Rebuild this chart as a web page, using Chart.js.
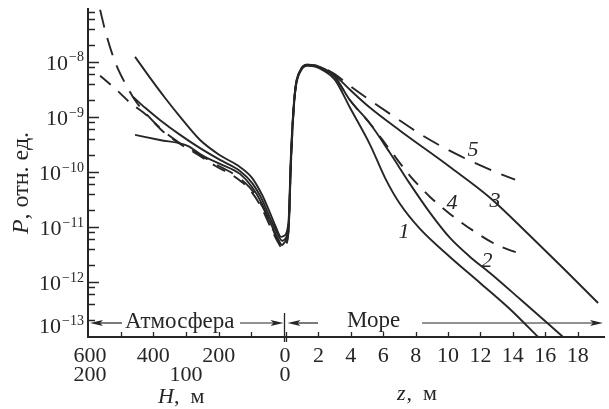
<!DOCTYPE html>
<html>
<head>
<meta charset="utf-8">
<script src="https://cdn.jsdelivr.net/npm/chart.js@4.4.1/dist/chart.umd.min.js"></script>
<style>
  html, body { margin: 0; padding: 0; background: #fff; }
  #wrap { width: 609px; height: 409px; }
</style>
</head>
<body>
<div id="wrap"><canvas id="chart"></canvas></div>
<script>
// Atmosphere part: [H (upper scale), P]; sea part: [z, P]
const curve1Atm = [[456, 4.7e-10], [380, 3.8e-10], [297, 3.0e-10], [248, 1.95e-10], [196, 1.4e-10], [135, 9.2e-11], [98, 5.3e-11], [67, 2.6e-11], [43, 1.23e-11], [21, 6.6e-12], [6, 4.7e-12], [0, 5.1e-12]];
const curve1Sea = [[0.15, 9e-12], [0.3, 1.4e-10], [0.45, 1.1e-9], [0.6, 3.4e-9], [0.9, 6.8e-9], [1.3, 8.5e-9], [1.8, 8.2e-9], [2.3, 7.0e-9], [3.0, 4.8e-9], [3.95, 1.46e-9], [5.19, 3.1e-10], [6.11, 7.8e-11], [7.04, 2.6e-11], [8.27, 9.2e-12], [10.12, 2.85e-12], [11.98, 9.6e-13], [13.83, 3.2e-13], [15.56, 1e-13]];

const curve2Atm = [[462, 2.3e-9], [425, 1.46e-9], [380, 8.8e-10], [318, 4.7e-10], [257, 2.7e-10], [196, 1.65e-10], [135, 1.04e-10], [98, 6.3e-11], [67, 3.1e-11], [43, 1.46e-11], [21, 7.8e-12], [6, 5.6e-12], [0, 5.8e-12]];
const curve2Sea = [[0.15, 1.0e-11], [0.3, 1.6e-10], [0.45, 1.2e-9], [0.6, 3.6e-9], [0.9, 7.0e-9], [1.3, 8.7e-9], [1.8, 8.4e-9], [2.3, 7.4e-9], [3.0, 5.4e-9], [3.95, 2.0e-9], [5.19, 7.5e-10], [6.42, 2.2e-10], [7.65, 6.05e-11], [8.89, 1.8e-11], [10.12, 6.3e-12], [11.36, 2.85e-12], [12.59, 1.46e-12], [14.44, 4.9e-13], [17.1, 1e-13]];

const curve3Atm = [[456, 1.23e-8], [410, 5.1e-9], [364, 2.2e-9], [318, 1.0e-9], [257, 3.8e-10], [196, 2.0e-10], [135, 1.23e-10], [98, 7.8e-11], [67, 3.8e-11], [43, 1.8e-11], [24, 9.6e-12], [9, 6.6e-12], [0, 6.9e-12]];
const curve3Sea = [[0.15, 1.2e-11], [0.3, 2.0e-10], [0.45, 1.3e-9], [0.6, 3.8e-9], [0.9, 7.2e-9], [1.3, 8.9e-9], [1.8, 8.6e-9], [2.3, 7.6e-9], [3.0, 5.7e-9], [3.95, 3.1e-9], [5.19, 1.46e-9], [7.04, 5.6e-10], [10.12, 1.23e-10], [12.59, 3.4e-11], [15.06, 6.9e-12], [17.22, 1.65e-12], [19.26, 4.15e-13]];

const curve4Atm = [[563, 5.6e-9], [530, 3.8e-9], [502, 2.7e-9], [471, 1.8e-9], [425, 1.13e-9], [373, 5.6e-10], [318, 3.2e-10], [266, 2.1e-10], [211, 1.29e-10], [150, 8.1e-11], [104, 4.7e-11], [70, 2.3e-11], [43, 1.04e-11], [21, 5.6e-12], [3, 4.0e-12], [0, 4.2e-12]];
const curve4Sea = [[0.15, 8e-12], [0.3, 1.3e-10], [0.45, 1.1e-9], [0.6, 3.5e-9], [0.9, 7.0e-9], [1.3, 8.7e-9], [1.8, 8.4e-9], [2.3, 7.3e-9], [3.0, 5.3e-9], [3.95, 2.0e-9], [5.19, 7.5e-10], [6.42, 2.5e-10], [7.65, 8.5e-11], [8.89, 3.5e-11], [10.12, 1.72e-11], [11.67, 8.1e-12], [13.02, 4.7e-12], [14.26, 3.4e-12]];

const curve5Atm = [[563, 8.8e-8], [548, 3.8e-8], [530, 1.65e-8], [511, 8.1e-9], [487, 4.15e-9], [456, 2.0e-9], [419, 1.09e-9], [373, 5.8e-10], [324, 3.5e-10], [272, 2.3e-10], [211, 1.4e-10], [150, 8.8e-11], [104, 5.1e-11], [67, 2.4e-11], [40, 1.09e-11], [21, 6.05e-12], [3, 4.3e-12], [0, 4.5e-12]];
const curve5Sea = [[0.15, 8.5e-12], [0.3, 1.5e-10], [0.45, 1.2e-9], [0.6, 3.7e-9], [0.9, 7.2e-9], [1.3, 8.9e-9], [1.8, 8.6e-9], [2.3, 7.7e-9], [3.0, 6.0e-9], [3.95, 3.65e-9], [5.19, 2.0e-9], [6.6, 1.04e-9], [8.58, 4.3e-10], [10.74, 1.95e-10], [12.78, 1.04e-10], [14.14, 7.2e-11]];

const hTicks = [500, 400, 300, 200, 100];
const hLabels = [600, 400, 200, 0];
const hLabelsLower = [200, 100, 0]; // lower H scale = upper / 3
const zTicks = [2, 4, 6, 8, 10, 12, 14, 16, 18];
const zLabels = [2, 4, 6, 8, 10, 12, 14, 16, 18];
const yDecades = [-8, -9, -10, -11, -12, -13];
const yMinor = [2, 4, 6, 8];

// one shared horizontal axis: atmosphere to the left of 0, sea to the right
const uAtm = H => -H / 49.59;
const uSea = z => z + 0.123;

const toPoints = (atm, sea) =>
  atm.map(([H, p]) => ({ x: uAtm(H), y: p }))
    .concat(sea.map(([z, p]) => ({ x: uSea(z), y: p })));

const ink = "#262626";
const serif = "'Liberation Serif', 'DejaVu Serif', serif";

function line(data, dash) {
  return {
    data,
    borderColor: ink,
    borderWidth: 1.9,
    borderDash: dash || [],
    pointRadius: 0,
    fill: false,
    cubicInterpolationMode: "monotone"
  };
}

function arrow(ctx, x1, x2, y) {
  const d = Math.sign(x2 - x1);
  ctx.beginPath();
  ctx.moveTo(x1, y);
  ctx.lineTo(x2 - d * 6, y);
  ctx.stroke();
  ctx.beginPath();
  ctx.moveTo(x2, y);
  ctx.lineTo(x2 - d * 13, y - 3);
  ctx.lineTo(x2 - d * 10, y);
  ctx.lineTo(x2 - d * 13, y + 3);
  ctx.closePath();
  ctx.fill();
}

const decor = {
  id: "decor",
  afterDraw(chart) {
    const { ctx, chartArea: a } = chart;
    const x = chart.scales.x, y = chart.scales.y;
    ctx.save();
    ctx.strokeStyle = ink;
    ctx.fillStyle = ink;

    // axes
    ctx.lineWidth = 2;
    ctx.beginPath();
    ctx.moveTo(a.left, a.top);
    ctx.lineTo(a.left, a.bottom);
    ctx.lineTo(a.right, a.bottom);
    ctx.stroke();

    // y ticks (inside)
    ctx.lineWidth = 1.5;
    yDecades.forEach(e => {
      const vals = [[Math.pow(10, e), 11]].concat(yMinor.map(m => [m * Math.pow(10, e), 7]));
      vals.forEach(([v, len]) => {
        if (v >= y.max || v <= y.min) return;
        const py = Math.round(y.getPixelForValue(v)) + 0.5;
        ctx.beginPath();
        ctx.moveTo(a.left, py);
        ctx.lineTo(a.left + len, py);
        ctx.stroke();
      });
    });

    // y labels 10^-n
    ctx.textBaseline = "middle";
    yDecades.forEach(e => {
      let py = y.getPixelForValue(Math.pow(10, e));
      if (e === -13) py -= 12;
      const sup = "\u2212" + (-e);
      ctx.font = `14px ${serif}`;
      const sw = ctx.measureText(sup).width;
      ctx.textAlign = "right";
      ctx.fillText(sup, 84, py - 4);
      ctx.font = `22px ${serif}`;
      ctx.fillText("10", 84 - sw - 1, py + 2);
    });

    // x ticks (inside)
    ctx.lineWidth = 1.3;
    const tickUp = px => {
      ctx.beginPath();
      ctx.moveTo(px, a.bottom);
      ctx.lineTo(px, a.bottom - 5);
      ctx.stroke();
    };
    hTicks.forEach(H => tickUp(Math.round(x.getPixelForValue(uAtm(H))) + 0.5));
    zTicks.forEach(z => tickUp(Math.round(x.getPixelForValue(uSea(z))) + 0.5));
    const x0a = Math.round(x.getPixelForValue(uAtm(0))) + 0.5;
    const x0s = Math.round(x.getPixelForValue(uSea(0))) + 0.5;
    ctx.beginPath();
    ctx.moveTo(x0a, 313); ctx.lineTo(x0a, a.bottom + 5);
    ctx.moveTo(x0s, a.bottom - 5); ctx.lineTo(x0s, a.bottom + 5);
    ctx.stroke();

    // x labels
    ctx.font = `22px ${serif}`;
    ctx.textAlign = "center";
    ctx.textBaseline = "alphabetic";
    hLabels.forEach(H => ctx.fillText(String(H), x.getPixelForValue(uAtm(H)) + (H === 600 ? 2 : H === 0 ? 1 : 0), 362));
    hLabelsLower.forEach(H => ctx.fillText(String(H), x.getPixelForValue(uAtm(H * 3)) + (H === 200 ? 2 : H === 0 ? 1 : 0), 381));
    zLabels.forEach(z => ctx.fillText(String(z), x.getPixelForValue(uSea(z)), 362));

    // axis names
    ctx.textAlign = "left";
    ctx.font = `italic 22px ${serif}`;
    ctx.fillText("H", 158, 403);
    let w = ctx.measureText("H").width;
    ctx.font = `22px ${serif}`;
    ctx.fillText(",  м", 158 + w, 403);
    ctx.font = `italic 22px ${serif}`;
    ctx.fillText("z", 397, 400);
    w = ctx.measureText("z").width;
    ctx.font = `22px ${serif}`;
    ctx.fillText(",  м", 397 + w + 1, 400);

    // vertical axis title
    ctx.save();
    ctx.translate(21, 183);
    ctx.rotate(-Math.PI / 2);
    ctx.font = `italic 24px ${serif}`;
    const wp = ctx.measureText("P").width;
    ctx.font = `24px ${serif}`;
    const rest = ", отн. ед.";
    const wr = ctx.measureText(rest).width;
    const sx = -(wp + wr) / 2;
    ctx.font = `italic 24px ${serif}`;
    ctx.fillText("P", sx, 7);
    ctx.font = `24px ${serif}`;
    ctx.fillText(rest, sx + wp, 7);
    ctx.restore();

    // region captions with arrows
    ctx.font = `23px ${serif}`;
    ctx.fillText("Атмосфера", 125, 328);
    ctx.fillText("Море", 347, 327);
    ctx.lineWidth = 1.2;
    arrow(ctx, 122, a.left + 2, 323);
    arrow(ctx, 240, x0a - 1, 323);
    arrow(ctx, 318, x0s + 1, 323);
    arrow(ctx, 422, a.right - 2, 323);

    // curve numbers
    ctx.font = `italic 22px ${serif}`;
    ctx.textAlign = "center";
    ctx.textBaseline = "middle";
    [["1", 404, 232], ["2", 487, 261], ["3", 495, 201], ["4", 452, 203], ["5", 473, 150]]
      .forEach(([t, px, py]) => ctx.fillText(t, px, py));

    ctx.restore();
  }
};

new Chart(document.getElementById("chart"), {
  type: "line",
  data: {
    datasets: [
      line(toPoints(curve1Atm, curve1Sea)),
      line(toPoints(curve2Atm, curve2Sea)),
      line(toPoints(curve3Atm, curve3Sea)),
      line(toPoints(curve4Atm, curve4Sea), [14, 10]),
      line(toPoints(curve5Atm, curve5Sea), [18, 11])
    ]
  },
  options: {
    responsive: true,
    maintainAspectRatio: false,
    animation: false,
    events: [],
    layout: { padding: { left: 88, right: 4, top: 8, bottom: 72 } },
    plugins: { legend: { display: false }, tooltip: { enabled: false } },
    scales: {
      x: { type: "linear", min: -12.1, max: 19.81, display: false },
      y: { type: "logarithmic", min: 1e-13, max: 9.5e-8, display: false }
    }
  },
  plugins: [decor]
});
</script>
</body>
</html>
